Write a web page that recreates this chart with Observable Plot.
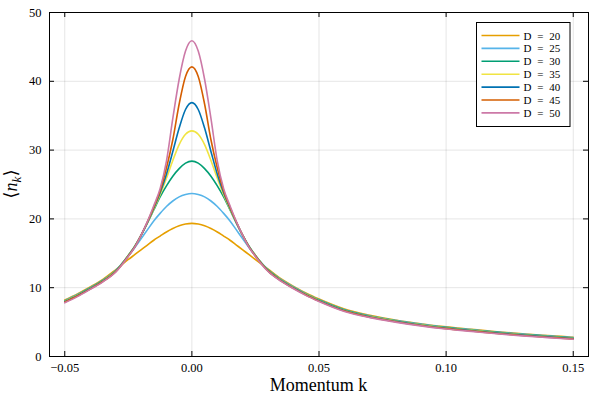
<!DOCTYPE html>
<html><head><meta charset="utf-8">
<script src="https://cdn.jsdelivr.net/npm/d3@7"></script>
<script src="https://cdn.jsdelivr.net/npm/@observablehq/plot@0.6"></script>
<style>body{margin:0;background:#fff} svg{display:block}</style>
</head><body><div id="chart"></div>
<script>
const momentum = [-0.05, -0.045, -0.04, -0.035, -0.03, -0.025, -0.0225, -0.02, -0.0175, -0.015, -0.0125, -0.01, -0.0075, -0.005, -0.0025, 0, 0.0025, 0.005, 0.0075, 0.01, 0.0125, 0.015, 0.0175, 0.02, 0.0225, 0.025, 0.03, 0.035, 0.04, 0.045, 0.05, 0.06, 0.07, 0.08, 0.09, 0.10, 0.11, 0.12, 0.13, 0.14, 0.15];
const seriesNames = ["D = 20", "D = 25", "D = 30", "D = 35", "D = 40", "D = 45", "D = 50"];
const nD20 = [8.2, 9.1, 10.1, 11.2, 12.6, 14.1, 14.8, 15.5, 16.2, 16.9, 17.5, 18.1, 18.6, 19.0, 19.25, 19.35, 19.25, 19.0, 18.6, 18.1, 17.5, 16.9, 16.2, 15.5, 14.8, 14.1, 12.7, 11.3, 10.2, 9.2, 8.35, 6.9, 6.0, 5.3, 4.75, 4.3, 3.95, 3.6, 3.3, 3.05, 2.8];
const nD25 = [8.1, 9.0, 10.0, 11.1, 12.5, 14.6, 15.8, 17.1, 18.4, 19.7, 20.8, 21.8, 22.6, 23.2, 23.55, 23.7, 23.55, 23.2, 22.6, 21.8, 20.8, 19.7, 18.4, 17.1, 15.8, 14.6, 12.6, 11.2, 10.1, 9.1, 8.25, 6.8, 5.9, 5.25, 4.7, 4.25, 3.9, 3.55, 3.25, 3.0, 2.75];
const nD30 = [8.05, 8.95, 9.95, 11.05, 12.45, 14.7, 16.0, 17.6, 19.4, 21.3, 23.2, 24.8, 26.2, 27.3, 28.1, 28.4, 28.1, 27.3, 26.2, 24.8, 23.2, 21.3, 19.4, 17.6, 16.0, 14.7, 12.55, 11.15, 10.05, 9.05, 8.2, 6.75, 5.85, 5.2, 4.65, 4.2, 3.85, 3.5, 3.2, 2.95, 2.7];
const nD35 = [8.0, 8.9, 9.9, 11.0, 12.4, 14.7, 16.0, 17.6, 19.45, 21.4, 23.5, 25.9, 28.5, 30.8, 32.3, 32.8, 32.3, 30.8, 28.5, 25.9, 23.5, 21.4, 19.45, 17.6, 16.0, 14.7, 12.5, 11.1, 10.0, 9.0, 8.15, 6.7, 5.8, 5.15, 4.6, 4.15, 3.8, 3.45, 3.15, 2.9, 2.65];
const nD40 = [7.95, 8.85, 9.85, 10.95, 12.35, 14.65, 15.95, 17.6, 19.5, 21.55, 23.8, 26.5, 29.8, 33.2, 35.9, 36.9, 35.9, 33.2, 29.8, 26.5, 23.8, 21.55, 19.5, 17.6, 15.95, 14.65, 12.45, 11.05, 9.95, 8.95, 8.1, 6.65, 5.75, 5.1, 4.55, 4.1, 3.75, 3.4, 3.1, 2.85, 2.6];
const nD45 = [7.9, 8.8, 9.8, 10.9, 12.3, 14.6, 15.9, 17.6, 19.55, 21.7, 24.1, 27.4, 31.5, 36.7, 40.7, 42.1, 40.7, 36.7, 31.5, 27.4, 24.1, 21.7, 19.55, 17.6, 15.9, 14.6, 12.4, 11.0, 9.9, 8.9, 8.05, 6.6, 5.7, 5.05, 4.5, 4.05, 3.7, 3.35, 3.05, 2.8, 2.55];
const nD50 = [7.8, 8.7, 9.75, 10.85, 12.25, 14.55, 15.85, 17.6, 19.6, 21.9, 24.4, 28.4, 34.6, 40.3, 44.4, 45.9, 44.4, 40.3, 34.6, 28.4, 24.4, 21.9, 19.6, 17.6, 15.85, 14.55, 12.35, 10.95, 9.85, 8.85, 8.0, 6.55, 5.65, 5.0, 4.45, 4.0, 3.65, 3.3, 3.0, 2.75, 2.5];
const seriesColors = ["#E69F00", "#56B4E9", "#009E73", "#F0E442", "#0072B2", "#D55E00", "#CC79A7"];
const xTicks = [-0.05, 0, 0.05, 0.10, 0.15];
const yTicks = [0, 10, 20, 30, 40, 50];

const allSeries = [nD20, nD25, nD30, nD35, nD40, nD45, nD50];
const rows = [];
allSeries.forEach((vals, i) => vals.forEach((v, j) => rows.push({k: momentum[j], n: v, D: seriesNames[i]})));

const W = 600, H = 400, mL = 49, mR = 12, mT = 12, mB = 44;
const pw = W - mL - mR, ph = H - mT - mB, tick = 5;
const fmtX = d => (d < 0 ? "\u2212" : "") + Math.abs(d).toFixed(2);
const serif = "'Liberation Serif', 'DejaVu Serif', serif";

const svg = Plot.plot({
  width: W, height: H,
  marginLeft: mL, marginRight: mR, marginTop: mT, marginBottom: mB,
  style: {fontFamily: serif, fontSize: "12.5px", background: "#fff", color: "#000"},
  x: {domain: [-0.056, 0.156], label: null},
  y: {domain: [0, 50], label: null},
  color: {domain: seriesNames, range: seriesColors},
  marks: [
    Plot.gridX(xTicks, {stroke: "#000", strokeOpacity: 0.1, strokeWidth: 1}),
    Plot.gridY(yTicks, {stroke: "#000", strokeOpacity: 0.1, strokeWidth: 1}),
    Plot.line(rows, {x: "k", y: "n", z: "D", stroke: "D", strokeWidth: 1.6, curve: "monotone-x"}),
    Plot.tickX(xTicks, {x: d => d, insetTop: ph - tick, stroke: "#000"}),
    Plot.tickX(xTicks, {x: d => d, insetBottom: ph - tick, stroke: "#000"}),
    Plot.tickY(yTicks, {y: d => d, insetRight: pw - tick, stroke: "#000"}),
    Plot.tickY(yTicks, {y: d => d, insetLeft: pw - tick, stroke: "#000"}),
    Plot.frame({stroke: "#000", strokeWidth: 1}),
    Plot.axisX(xTicks, {tickSize: 0, tickPadding: 7, tickFormat: fmtX, label: null}),
    Plot.axisY(yTicks, {tickSize: 0, tickPadding: 8, label: null})
  ]
});
document.getElementById("chart").appendChild(svg);

const s = d3.select(svg);
// x axis title
s.append("text").attr("x", mL + pw / 2).attr("y", 391).attr("text-anchor", "middle")
  .attr("font-family", serif).attr("font-size", 18).attr("fill", "#000").text("Momentum k");
// y axis title
const yl = s.append("text").attr("transform", `translate(17,${mT + ph / 2}) rotate(-90)`)
  .attr("text-anchor", "middle").attr("font-family", serif).attr("font-size", 18).attr("fill", "#000");
yl.append("tspan").text("\u27E8");
yl.append("tspan").attr("font-style", "italic").text("n");
yl.append("tspan").attr("font-style", "italic").attr("font-size", 13).attr("dy", 4).text("k");
yl.append("tspan").attr("dy", -4).text("\u27E9");

// legend
const lg = s.append("g").attr("transform", "translate(476.5,22.5)");
lg.append("rect").attr("width", 93.5).attr("height", 104).attr("fill", "#fff").attr("stroke", "#000").attr("stroke-width", 1);
seriesNames.forEach((name, i) => {
  const y = 13 + i * 12.9;
  lg.append("line").attr("x1", 5).attr("x2", 43).attr("y1", y).attr("y2", y)
    .attr("stroke", seriesColors[i]).attr("stroke-width", 1.6);
  lg.append("text").attr("x", 47).attr("y", y + 4).attr("text-anchor", "start")
    .attr("font-family", serif).attr("font-size", 11).attr("word-spacing", 3)
    .attr("fill", "#000").text(name);
});
</script>
</body></html>
